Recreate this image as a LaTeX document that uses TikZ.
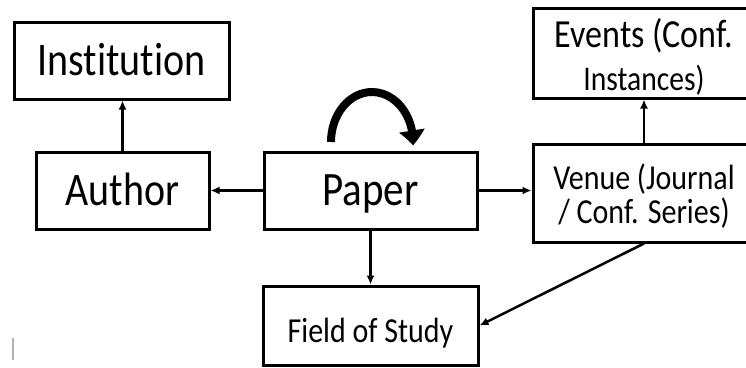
\documentclass[tikz,border=0pt]{standalone}
\usepackage{fontspec}
\usepackage{graphicx}
\setmainfont{Carlito}[Ligatures={NoCommon,NoContextual}]
\usetikzlibrary{arrows.meta,bending}
\newcommand{\vsc}[1]{\scalebox{1}[1.17]{#1}}
\tikzset{
  box/.style={draw, line width=3pt, rectangle, inner sep=0pt, align=center},
  conn/.style={line width=2.5pt, -{Latex[length=9pt,width=8pt]}},
}
\begin{document}
\begin{tikzpicture}[x=1pt,y=-1pt]
\useasboundingbox (0,0) rectangle (746,367);
\clip (0,0) rectangle (746,367);
\fill[white] (0,0) rectangle (746,367);

\node[box, minimum width=215pt, minimum height=77pt, text height=29pt, text depth=0pt,
  font=\fontsize{40}{48}\selectfont] (inst) at (121.5,60.5) {\vsc{Institution}};
\node[box, minimum width=173pt, minimum height=77pt, text height=29pt, text depth=0pt,
  font=\fontsize{40}{48}\selectfont] (author) at (122.5,190.5) {\vsc{Author}};
\node[box, minimum width=213pt, minimum height=77pt, text height=29pt, text depth=0pt,
  font=\fontsize{41}{48}\selectfont] (paper) at (370.5,190.5) {\vsc{Paper}};
\node[box, minimum width=215pt, minimum height=79pt, text height=33pt, text depth=0pt,
  font=\fontsize{30}{36}\selectfont] (field) at (370.5,325.5) {\vsc{Field of Study}};
\node[box, minimum width=222pt, minimum height=98pt, text height=60pt, text depth=0pt,
  font=\fontsize{30}{34}\selectfont] (venue) at (644,193)
  {\vsc{Venue (Journal}\\\vsc{/ Conf. Series)}};
\node[box, minimum width=222pt, minimum height=90pt, text height=74pt, text depth=0pt,
  font=\fontsize{34}{43}\selectfont] (events) at (644,53)
  {\vsc{Events (Conf.}\\{\fontsize{29.6}{43}\selectfont\vsc{Instances)}}};

\draw[conn] (author.north) -- (author.north |- inst.south);
\draw[conn] (paper.west) -- (author.east);
\draw[conn] (paper.east) -- (paper.east -| venue.west);
\draw[conn] (venue.north) -- (events.south);
\draw[conn] (paper.south) -- (field.north);
\draw[conn] (venue.south) -- (field.east);

\draw[line width=8pt, -{Triangle[length=15pt,width=25pt,bend]}]
  (331,142) arc[start angle=180, end angle=-4, x radius=41pt, y radius=50pt];

\draw[gray!60, line width=1.5pt] (13,338) -- (13,360);
\end{tikzpicture}
\end{document}
